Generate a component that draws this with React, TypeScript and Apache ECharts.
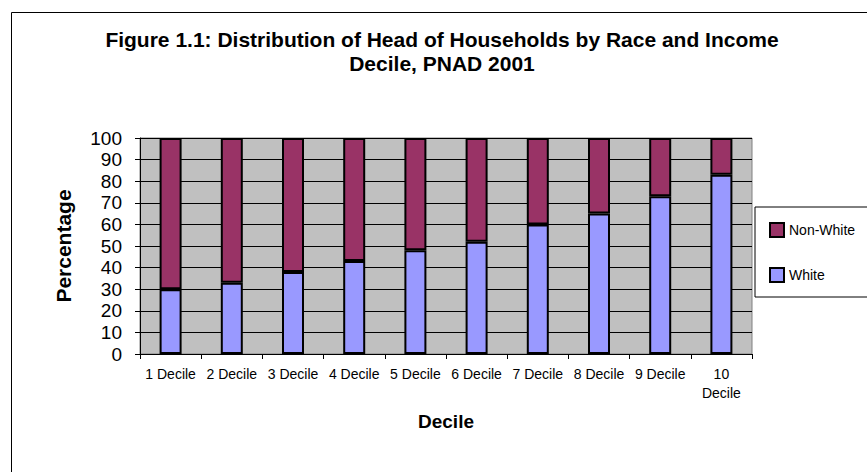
import React, { useEffect, useRef } from "react";
import * as echarts from "echarts";

const categories = ["1 Decile", "2 Decile", "3 Decile", "4 Decile", "5 Decile", "6 Decile", "7 Decile", "8 Decile", "9 Decile", "10\nDecile"];
const whiteValues = [30, 33, 38, 43, 48, 52, 60, 65, 73, 83];
const nonWhiteValues = [70, 67, 62, 57, 52, 48, 40, 35, 27, 17];
const titleLines = ["Figure 1.1: Distribution of Head of Households by Race and Income", "Decile, PNAD 2001"];

const FONT = 'Arial, "Liberation Sans", sans-serif';

export default function App() {
  const ref = useRef<HTMLDivElement>(null);
  useEffect(() => {
    if (!ref.current) return;
    const chart = echarts.init(ref.current, undefined, { renderer: "svg" });
    chart.setOption({
      animation: false,
      backgroundColor: "#ffffff",
      textStyle: { fontFamily: FONT },
      title: {
        text: titleLines.join("\n"),
        left: 442,
        top: 27,
        textAlign: "center",
        padding: 0,
        textStyle: { fontFamily: FONT, fontSize: 21, fontWeight: "bold", color: "#000", lineHeight: 24 },
      },
      graphic: [
        {
          type: "rect",
          left: 9,
          top: 10,
          shape: { x: 0, y: 0, width: 900, height: 500 },
          style: { fill: "none", stroke: "#000", lineWidth: 1 },
          silent: true,
        },
      ],
      legend: {
        orient: "vertical",
        left: 755,
        top: 207,
        data: ["Non-White", "White"],
        icon: "rect",
        itemWidth: 14,
        itemHeight: 14,
        itemGap: 29,
        padding: [15, 20, 14, 14],
        borderColor: "#000",
        borderWidth: 1,
        backgroundColor: "#fff",
        textStyle: { fontFamily: FONT, fontSize: 14, color: "#000", padding: [0, 0, 12, 0] },
      },
      grid: {
        left: 140,
        right: 115,
        top: 138,
        bottom: 118,
        show: true,
        backgroundColor: "#C0C0C0",
        borderColor: "#808080",
        borderWidth: 1,
        containLabel: false,
      },
      xAxis: {
        type: "category",
        data: categories,
        name: "Decile",
        nameLocation: "middle",
        nameGap: 58,
        nameTextStyle: { fontFamily: FONT, fontSize: 19, fontWeight: "bold", color: "#000" },
        axisLine: { show: true, lineStyle: { color: "#000", width: 1 } },
        axisTick: { show: true, alignWithLabel: false, length: 5, lineStyle: { color: "#000" } },
        axisLabel: { fontFamily: FONT, fontSize: 14, color: "#000", margin: 10, lineHeight: 19, interval: 0 },
        splitLine: { show: false },
      },
      yAxis: {
        type: "value",
        min: 0,
        max: 100,
        interval: 10,
        name: "Percentage",
        nameLocation: "middle",
        nameGap: 66,
        nameRotate: 90,
        nameTextStyle: { fontFamily: FONT, fontSize: 21, fontWeight: "bold", color: "#000" },
        axisLine: { show: true, lineStyle: { color: "#000", width: 1 } },
        axisTick: { show: true, length: 5, lineStyle: { color: "#000" } },
        axisLabel: { fontFamily: FONT, fontSize: 19, color: "#000", margin: 18 },
        splitLine: { show: true, lineStyle: { color: "#000", width: 1 } },
      },
      series: [
        {
          name: "White",
          type: "bar",
          stack: "total",
          data: whiteValues,
          barWidth: 22,
          itemStyle: { color: "#9999FF", borderColor: "#000", borderWidth: 2 },
        },
        {
          name: "Non-White",
          type: "bar",
          stack: "total",
          data: nonWhiteValues,
          barWidth: 22,
          itemStyle: { color: "#993366", borderColor: "#000", borderWidth: 2 },
        },
      ],
    });
    return () => chart.dispose();
  }, []);
  return <div ref={ref} style={{ position: "fixed", left: 0, top: 0, width: 867, height: 472 }} />;
}
